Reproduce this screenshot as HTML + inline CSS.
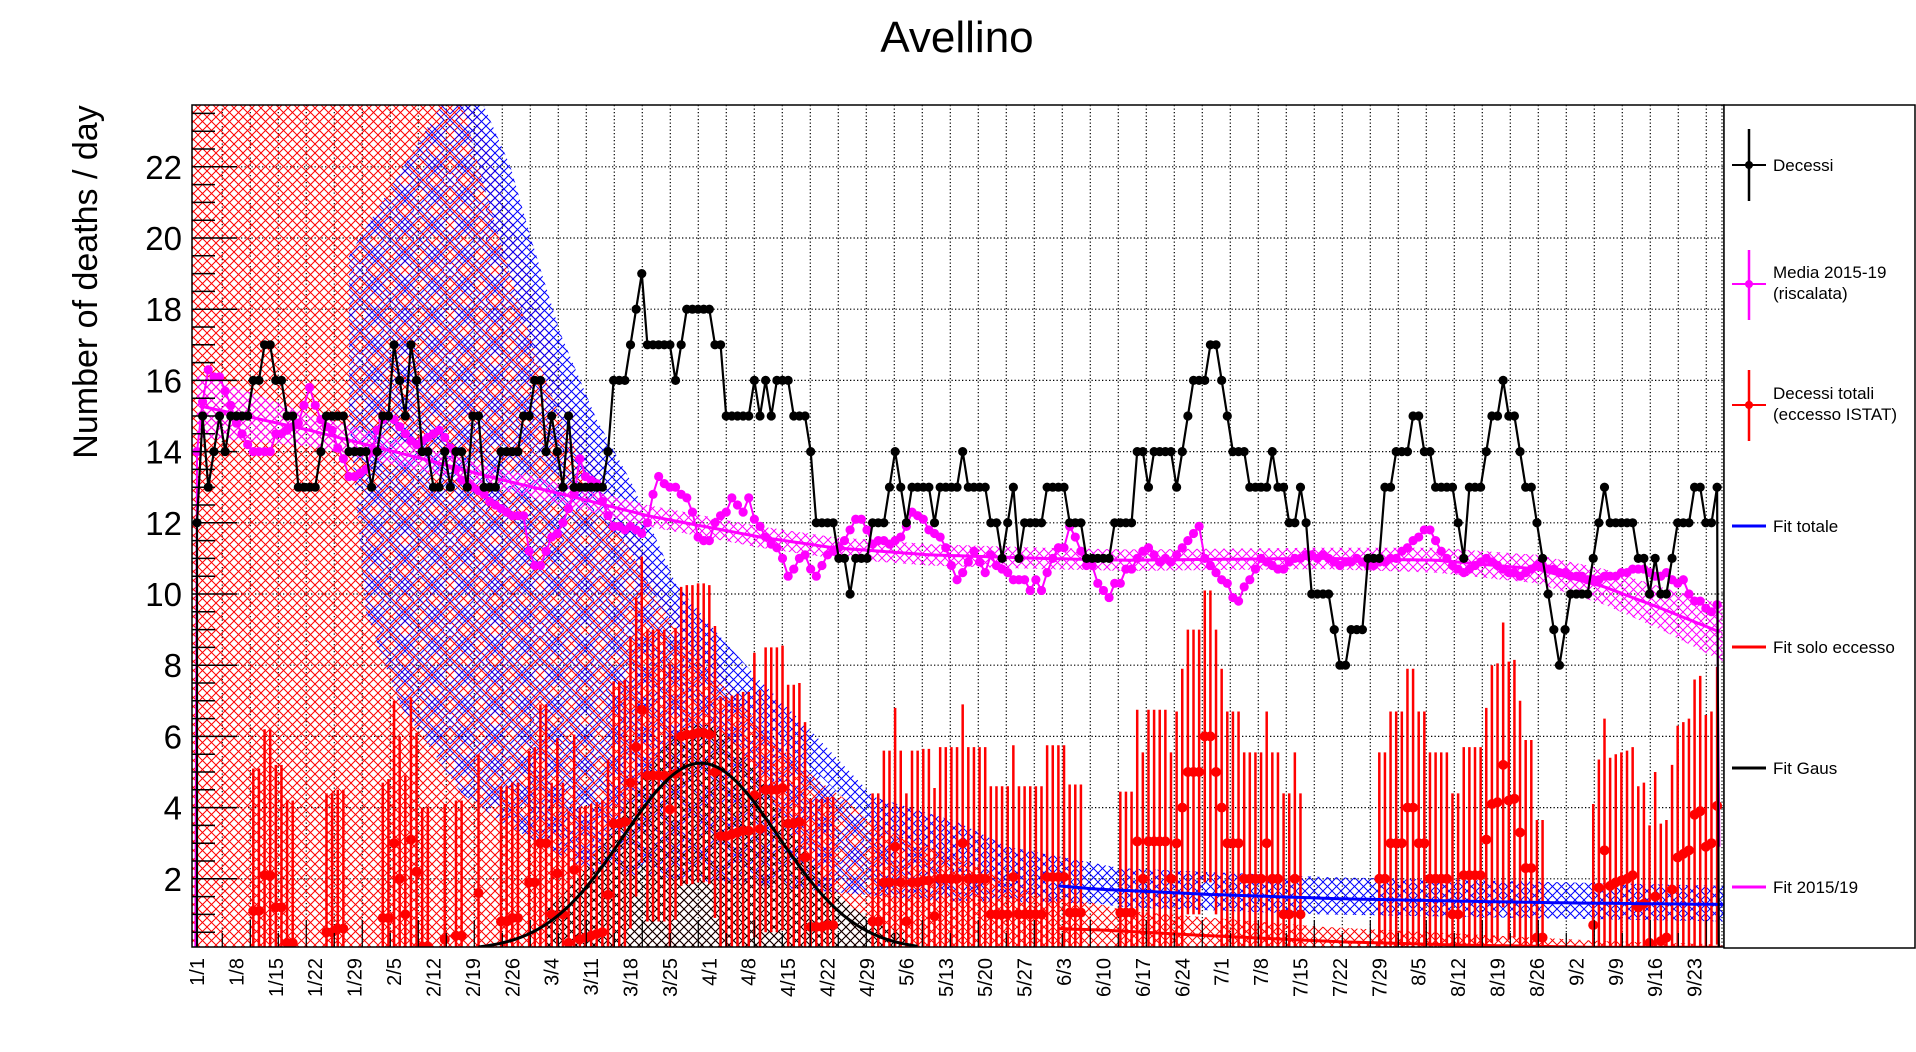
<!DOCTYPE html>
<html><head><meta charset="utf-8"><title>Avellino</title>
<style>
html,body{margin:0;padding:0;background:#fff;}
svg{display:block;font-family:"Liberation Sans",Arial,sans-serif;}
</style></head>
<body>
<svg id="chart" width="1916" height="1052" viewBox="0 0 1916 1052" xmlns="http://www.w3.org/2000/svg">
<defs>
<pattern id="hRed" patternUnits="userSpaceOnUse" width="9" height="9"><path d="M0,0L9,9M9,0L0,9" stroke="#ff0000" stroke-width="1" fill="none"/></pattern>
<pattern id="hBlue" patternUnits="userSpaceOnUse" width="9" height="9"><path d="M0,0L9,9M9,0L0,9" stroke="#0000ff" stroke-width="1" fill="none"/></pattern>
<pattern id="hBlueCoarse" patternUnits="userSpaceOnUse" width="30" height="30"><path d="M0,0L30,30M30,0L0,30M0,6L24,30M6,0L30,24M30,6L6,30M24,0L0,24" stroke="#0000ff" stroke-width="0.9" fill="none"/></pattern>
<pattern id="hBlack" patternUnits="userSpaceOnUse" width="9" height="9"><path d="M0,0L9,9M9,0L0,9" stroke="#000" stroke-width="1" fill="none"/></pattern>
<pattern id="hMag" patternUnits="userSpaceOnUse" width="9" height="9"><path d="M0,0L9,9M9,0L0,9" stroke="#ff00ff" stroke-width="1" fill="none"/></pattern>
<clipPath id="plotClip"><rect x="192" y="105" width="1532" height="842"/></clipPath>
</defs>
<rect x="0" y="0" width="1916" height="1052" fill="#fff"/>
<text x="957" y="52" font-size="44" text-anchor="middle">Avellino</text>
<text transform="translate(97,282) rotate(-90)" font-size="34" text-anchor="middle">Number of deaths / day</text>
<g id="grid"></g>
<g id="marks" clip-path="url(#plotClip)"></g>
<g id="axes"></g>
<g id="legend"></g>
</svg>
<script>
// ---- data ----
const tickLabels = ["1/1","1/8","1/15","1/22","1/29","2/5","2/12","2/19","2/26","3/4","3/11","3/18","3/25","4/1","4/8","4/15","4/22","4/29","5/6","5/13","5/20","5/27","6/3","6/10","6/17","6/24","7/1","7/8","7/15","7/22","7/29","8/5","8/12","8/19","8/26","9/2","9/9","9/16","9/23"];
const yTicks = [2,4,6,8,10,12,14,16,18,20,22];
const decessi = [
12,15,13,14,15,14,15,15,15,15, 16,16,17,17,16,16,15,15,13,13,
13,13,14,15,15,15,15,14,14,14, 14,13,14,15,15,17,16,15,17,16,
14,14,13,13,14,13,14,14,13,15, 15,13,13,13,14,14,14,14,15,15,
16,16,14,15,14,13,15,13,13,13, 13,13,13,14,16,16,16,17,18,19,
17,17,17,17,17,16,17,18,18,18, 18,18,17,17,15,15,15,15,15,16,
15,16,15,16,16,16,15,15,15,14, 12,12,12,12,11,11,10,11,11,11,
12,12,12,13,14,13,12,13,13,13, 13,12,13,13,13,13,14,13,13,13,
13,12,12,11,12,13,11,12,12,12, 12,13,13,13,13,12,12,12,11,11,
11,11,11,12,12,12,12,14,14,13, 14,14,14,14,13,14,15,16,16,16,
17,17,16,15,14,14,14,13,13,13, 13,14,13,13,12,12,13,12,10,10,
10,10,9,8,8,9,9,9,11,11, 11,13,13,14,14,14,15,15,14,14,
13,13,13,13,12,11,13,13,13,14, 15,15,16,15,15,14,13,13,12,11,
10,9,8,9,10,10,10,10,11,12, 13,12,12,12,12,12,11,11,10,11,
10,10,11,12,12,12,13,13,12,12,13];
const media = [
14.0,15.4,16.3,16.1,16.1,15.7,15.3,14.8,14.5,14.2, 14.0,14.0,14.0,14.0,14.5,14.5,14.6,14.7,14.8,15.3,
15.8,15.3,14.9,14.7,14.6,14.1,13.8,13.3,13.3,13.4, 13.5,14.0,14.6,14.9,15.0,14.9,14.7,14.5,14.3,14.2,
14.3,14.4,14.5,14.6,14.4,14.1,13.5,13.2,13.1,13.0, 12.9,12.8,12.6,12.5,12.4,12.3,12.2,12.2,12.2,11.2,
10.8,10.8,11.2,11.6,11.7,12.0,12.4,12.8,13.8,13.3, 13.2,13.1,12.6,12.2,11.9,11.9,11.8,11.9,11.8,11.7,
12.0,12.8,13.3,13.1,13.0,13.0,12.8,12.7,12.3,11.6, 11.5,11.5,12.0,12.2,12.3,12.7,12.5,12.3,12.7,12.1,
11.9,11.6,11.4,11.3,11.0,10.5,10.7,11.0,11.1,10.7, 10.5,10.8,11.1,11.2,11.3,11.5,11.8,12.1,12.1,11.8,
11.4,11.5,11.5,11.4,11.5,11.6,11.9,12.3,12.2,12.1, 11.8,11.7,11.6,11.3,10.8,10.4,10.6,10.9,11.2,10.9,
10.6,11.1,10.8,10.7,10.6,10.4,10.4,10.4,10.1,10.4, 10.1,10.6,11.0,11.3,11.3,11.9,11.6,11.2,10.8,10.8,
10.3,10.1,9.9,10.3,10.3,10.7,10.7,11.0,11.2,11.3, 11.1,10.9,11.0,10.9,11.1,11.3,11.5,11.7,11.9,11.0,
10.8,10.6,10.4,10.3,9.9,9.8,10.2,10.4,10.7,11.0, 10.9,10.8,10.7,10.7,10.9,11.0,11.0,11.1,11.1,11.0,
11.1,11.0,10.9,10.8,10.9,10.9,11.0,10.9,10.8,10.8, 10.9,10.9,11.0,11.0,11.2,11.3,11.5,11.6,11.8,11.8,
11.5,11.2,11.0,10.8,10.7,10.6,10.7,10.8,10.9,11.0, 10.9,10.8,10.7,10.6,10.6,10.5,10.6,10.7,10.8,10.8,
10.7,10.7,10.6,10.6,10.5,10.5,10.5,10.4,10.4,10.4, 10.5,10.5,10.5,10.6,10.6,10.7,10.7,10.7,10.6,10.5,
10.5,10.6,10.4,10.3,10.4,10.0,9.8,9.8,9.6,9.5,9.7];
const redDays = [10,11,12,13,14,15,16,17,23,24,25,26,33,34,35,36,37,38,39,40,41,44,46,47,50,54,55,56,57,59,60,61,62,63,64,65,66,67,68,69,70,71,72,73,74,75,76,77,78,79,80,81,82,83,84,85,86,87,88,89,90,91,92,93,94,95,96,97,98,99,100,101,102,103,104,105,106,107,108,109,110,111,112,113,
120,121,122,123,124,125,126,127,128,129,130,131,132,133,134,135,136,137,138,139,140,141,142,143,144,145,146,147,148,149,150,151,152,153,154,155,156,157,
164,165,166,167,168,169,170,171,172,173,174,175,176,177,178,179,180,181,182,183,184,185,186,187,188,189,190,191,192,193,194,195,196,
210,211,212,213,214,215,216,217,218,219,220,221,222,223,224,225,226,227,228,229,230,231,232,233,234,235,236,237,238,239,
248,249,250,251,252,253,254,255,256,257,258,259,260,261,262,263,264,265,266,267,268,269,270];
const redVals = [1.1,1.1,2.1,2.1,1.2,1.2,0.2,0.2,0.5,0.5,0.6,0.6,0.9,0.9,3.0,2.0,1.0,3.1,2.2,0.1,0.1,0.3,0.4,0.4,1.6,0.8,0.8,0.9,0.9,1.9,1.9,3.0,3.0,1.0,2.15,1.0,0.2,2.25,0.3,0.35,0.4,0.45,0.5,1.55,3.55,3.55,3.6,4.7,5.7,6.75,4.9,4.9,4.9,4.9,3.95,4.95,6.0,6.05,6.05,6.1,6.1,6.05,5.0,3.2,3.2,3.25,3.3,3.35,3.35,4.35,3.4,4.5,4.5,4.5,4.55,3.55,3.55,3.6,2.6,0.65,0.65,0.65,0.7,0.7,
0.8,0.8,1.9,1.9,2.9,1.9,0.8,1.9,1.9,1.95,1.95,0.95,2.0,2.0,2.0,2.0,3.0,2.0,2.0,2.0,2.0,1.0,1.0,1.0,1.0,2.05,1.0,1.0,1.0,1.0,1.0,2.05,2.05,2.05,2.05,1.05,1.05,1.05,
1.05,1.05,1.05,3.05,2.0,3.05,3.05,3.05,3.05,2.0,3.0,4.0,5.0,5.0,5.0,6.0,6.0,5.0,4.0,3.0,3.0,3.0,2.0,2.0,2.0,2.0,3.0,2.0,2.0,1.0,1.0,2.0,1.0,
2.0,2.0,3.0,3.0,3.0,4.0,4.0,3.0,3.0,2.0,2.0,2.0,2.0,1.0,1.0,2.1,2.1,2.1,2.1,3.1,4.1,4.15,5.2,4.2,4.25,3.3,2.3,2.3,0.35,0.35,
0.7,1.75,2.8,1.8,1.9,1.95,2.0,2.1,1.2,1.3,0.2,1.5,0.25,0.35,1.7,2.6,2.7,2.8,3.8,3.9,2.9,3.0,4.05];
const redErrs = [4.0,4.0,4.1,4.1,4.0,4.0,4.0,4.0,3.9,3.9,3.9,3.9,3.8,3.9,4.0,4.0,3.9,4.0,3.9,3.9,3.9,3.8,3.8,3.8,3.9,3.8,3.8,3.8,3.8,3.7,3.8,3.9,3.9,3.7,3.8,3.7,3.7,3.8,3.7,3.7,3.7,3.7,3.7,3.8,4.0,4.0,4.0,4.1,4.2,4.3,4.1,4.1,4.1,4.1,4.1,4.1,4.2,4.2,4.2,4.2,4.2,4.2,4.1,3.9,3.9,3.9,3.9,3.9,3.9,4.0,3.9,4.0,4.0,4.0,4.0,3.9,3.9,3.9,3.8,3.6,3.6,3.6,3.6,3.6,
3.6,3.6,3.7,3.7,3.9,3.7,3.6,3.7,3.7,3.7,3.7,3.6,3.7,3.7,3.7,3.7,3.9,3.7,3.7,3.7,3.7,3.6,3.6,3.6,3.6,3.7,3.6,3.6,3.6,3.6,3.6,3.7,3.7,3.7,3.7,3.6,3.6,3.6,
3.4,3.4,3.4,3.7,3.55,3.7,3.7,3.7,3.7,3.55,3.7,3.9,4.0,4.0,4.0,4.1,4.1,4.0,3.9,3.7,3.7,3.7,3.55,3.55,3.55,3.55,3.7,3.55,3.55,3.4,3.4,3.55,3.4,
3.55,3.55,3.7,3.7,3.7,3.9,3.9,3.7,3.7,3.55,3.55,3.55,3.55,3.4,3.4,3.6,3.6,3.6,3.6,3.7,3.9,3.9,4.0,3.9,3.9,3.7,3.6,3.6,3.3,3.3,
3.4,3.6,3.7,3.6,3.6,3.6,3.6,3.6,3.4,3.4,3.3,3.5,3.3,3.3,3.5,3.7,3.7,3.7,3.8,3.8,3.7,3.7,3.9];
// fit curves (model outputs sampled)
const fitMagDays = [0,20,40,53,65,80,90,100,113,130,150,165,200,220,238,250,260,271];
const fitMagVals = [15.3,14.6,13.8,13.25,12.8,12.2,11.9,11.6,11.3,11.1,11.0,10.95,11.0,10.95,10.7,10.2,9.6,8.9];
const fitMagBand = [0.9,0.45,0.35,0.3,0.3,0.3,0.3,0.3,0.3,0.3,0.3,0.3,0.3,0.35,0.4,0.5,0.6,0.8];
const fitTotDays = [153,160,180,203,225,245,271];
const fitTotVals = [1.8,1.71,1.56,1.44,1.37,1.32,1.28];
const blueUpDays = [44,51,55.7,59.5,64.6,71,77.3,85,93.5,99.8,109.4,120.2,135,144,164,200,272];
const blueUpVals = [23.9,23.7,22,19.9,17.3,14.9,13.1,10.3,8.7,7.6,6.1,4.3,3.6,2.9,2.3,2.05,1.8];
const blueLoDays = [47,50,55,60,65,71,77,85,93,100,110,120,135,150,165,200,272];
const blueLoVals = [23.9,22,19.3,16.8,14.8,12.8,11.2,9.0,7.5,6.4,5.0,3.5,2.6,1.5,1.2,1.0,0.8];
const coarseDays = [27,30,36,47,55,70,100,130,160];
const coarseLow = [15,9.5,6.9,4.4,3.5,2.2,1.8,1.4,1.3];
const redBandDays = [-2,49,55,60,65,70,77,85,93,100,110,120,135,150,165,200,250,272];
const redBandVals = [23.9,23.9,21,18.5,16,14,12,9.5,8,6.2,4.8,3.7,2.6,1.7,1.1,0.65,0.25,0.15];
const fitEccDays = [153,161,180,203,224,247,271];
const fitEccVals = [0.6,0.56,0.4,0.23,0.14,0.08,0.08];
const gausAmp = 5.25, gausMean = 89.5, gausSigma = 13.8, gausFrom = 50, gausTo = 128;

// ---- axes ----
const X = d => 197 + d*5.63;
const Y = v => 950 - v*35.6;
const NS = "http://www.w3.org/2000/svg";
function mk(tag, attrs, parent){const e=document.createElementNS(NS,tag);for(const k in attrs)e.setAttribute(k,attrs[k]);parent.appendChild(e);return e;}
const grid=document.getElementById('grid'), marks=document.getElementById('marks'), axes=document.getElementById('axes'), legend=document.getElementById('legend');

for(let k=1;k<=54;k++){const gx=194.3+28*k;
 const l=mk('line',{x1:gx,y1:105,x2:gx,y2:947,stroke:'#000','stroke-width':1.2,'stroke-dasharray':'1.3 2.2'},grid);
 
 }
const lastGrid=mk('line',{x1:1722,y1:105,x2:1722,y2:947,stroke:'#000','stroke-width':1.2,'stroke-dasharray':'1.3 2.2'},grid);


yTicks.forEach(v=>{const l=mk('line',{x1:192,y1:Y(v),x2:1724,y2:Y(v),stroke:'#000','stroke-width':1.2,'stroke-dasharray':'1.3 2.2'},grid);
 
 });

function interp(xs,ys,d){if(d<=xs[0])return ys[0];for(let i=1;i<xs.length;i++){if(d<=xs[i]){const t=(d-xs[i-1])/(xs[i]-xs[i-1]);return ys[i-1]+t*(ys[i]-ys[i-1]);}}return ys[ys.length-1];}
function curvePts(xs,ys,from,to,step){const p=[];for(let d=from;d<=to+1e-9;d+=step)p.push([X(d),Y(interp(xs,ys,d))]);return p;}
function pstr(p){return p.map(q=>q[0].toFixed(1)+','+q[1].toFixed(1)).join(' ');}

const redPoly=curvePts(redBandDays,redBandVals,-2,272,0.5);
redPoly.push([X(272),Y(0)],[X(-2),Y(0)]);
const rb=mk('polygon',{points:pstr(redPoly),fill:'url(#hRed)'},marks);



const cTop=curvePts(blueLoDays,blueLoVals,47,160,1);
const cPoly=[[X(27),Y(19.5)],[X(44),Y(23.9)]].concat(cTop);
for(let i=coarseDays.length-1;i>=0;i--)cPoly.push([X(coarseDays[i]),Y(coarseLow[i])]);
const cb=mk('polygon',{points:pstr(cPoly),fill:'url(#hBlueCoarse)'},marks);



const bUp=curvePts(blueUpDays,blueUpVals,44,272,0.5);
const bLo=curvePts(blueLoDays,blueLoVals,47,272,0.5).reverse();
const bb=mk('polygon',{points:pstr(bUp.concat(bLo)),fill:'url(#hBlue)'},marks);



const gaus=d=>gausAmp*Math.exp(-Math.pow(d-gausMean,2)/(2*gausSigma*gausSigma));
const gb=[];for(let d=62;d<=126;d+=0.5)gb.push([X(d),Y(gaus(d)*1.15+0.3)]);
gb.push([X(126),Y(0)],[X(62),Y(0)]);
const gbe=mk('polygon',{points:pstr(gb),fill:'url(#hBlack)'},marks);



const mUp=[],mLo=[];for(let d=0;d<=271;d+=0.5){const v=interp(fitMagDays,fitMagVals,d),w=interp(fitMagDays,fitMagBand,d);mUp.push([X(d),Y(v+w)]);mLo.push([X(d),Y(v-w)]);}
const mb=mk('polygon',{points:pstr(mUp.concat(mLo.reverse())),fill:'url(#hMag)'},marks);



const redG=mk('g',{},marks);


redDays.forEach((d,i)=>{const v=redVals[i],e=redErrs[i];
 const b=mk('line',{x1:X(d),x2:X(d),y1:Y(Math.max(0,v-e)),y2:Y(v+e),stroke:'#ff0000','stroke-width':2.5},redG);
 
 
 const c=mk('circle',{cx:X(d),cy:Y(v),r:5,fill:'#ff0000'},redG);
 
 });

const fe=mk('polyline',{points:pstr(curvePts(fitEccDays,fitEccVals,153,271,1)),fill:'none',stroke:'#ff0000','stroke-width':3},marks);


const ft=mk('polyline',{points:pstr(curvePts(fitTotDays,fitTotVals,153,271,1)),fill:'none',stroke:'#0000ff','stroke-width':3},marks);


const gp=[];for(let d=gausFrom;d<=gausTo;d+=0.5)gp.push([X(d),Y(gaus(d))]);
const gl=mk('polyline',{points:pstr(gp),fill:'none',stroke:'#000','stroke-width':3},marks);


const fm=mk('polyline',{points:pstr(curvePts(fitMagDays,fitMagVals,0.5,271,1)),fill:'none',stroke:'#ff00ff','stroke-width':3},marks);



const magPts=[[X(-0.3),Y(0)]].concat(media.map((v,i)=>[X(i),Y(v)]));
magPts.push([X(media.length-0.6),Y(2.9)]);
const ml=mk('polyline',{points:pstr(magPts),fill:'none',stroke:'#ff00ff','stroke-width':2},marks);


media.forEach((v,i)=>{const c=mk('circle',{cx:X(i),cy:Y(v),r:4.6,fill:'#ff00ff'},marks);
 
 });

const blkPts=[[X(0),Y(0)]].concat(decessi.map((v,i)=>[X(i),Y(v)]));
blkPts.push([X(decessi.length-0.7),Y(0)]);
const bl=mk('polyline',{points:pstr(blkPts),fill:'none',stroke:'#000','stroke-width':2.2},marks);


decessi.forEach((v,i)=>{const c=mk('circle',{cx:X(i),cy:Y(v),r:4.6,fill:'#000'},marks);
 
 });

const fr=mk('rect',{x:192,y:105,width:1532,height:842,fill:'none',stroke:'#000','stroke-width':1.5},axes);


for(let v=0.5;v<23.8;v+=0.5){const major=Math.abs(v/2-Math.round(v/2))<1e-6;
 const t=mk('line',{x1:192,x2:192+(major?45:23),y1:Y(v),y2:Y(v),stroke:'#000','stroke-width':1.5},axes);
 
 }
yTicks.forEach(v=>{const t=mk('text',{x:182,y:Y(v)+12,'font-size':33,'text-anchor':'end'},axes);t.textContent=String(v);
 
 });
for(let k=1;k<=54;k++){const gx=194.3+28*k;
 const t=mk('line',{x1:gx,x2:gx,y1:947,y2:k%2?933:920,stroke:'#000','stroke-width':1.2},axes);
 
 }
tickLabels.forEach((s,i)=>{const x=X(i*7)+7;
 const t=mk('text',{transform:`translate(${x.toFixed(1)},958) rotate(-90)`,'font-size':20,'text-anchor':'end'},axes);t.textContent=s;
 
 });

const lb=mk('rect',{x:1724,y:105,width:191,height:843,fill:'#fff',stroke:'#000','stroke-width':1.5},legend);


const legItems=[
 {name:'legend-decessi',color:'#000',y:165,bar:[129,201],dot:true,lines:['Decessi']},
 {name:'legend-media-2015-19',color:'#ff00ff',y:284,bar:[250,320],dot:true,lines:['Media 2015-19','(riscalata)']},
 {name:'legend-decessi-totali',color:'#ff0000',y:405,bar:[370,441],dot:true,lines:['Decessi totali','(eccesso ISTAT)']},
 {name:'legend-fit-totale',color:'#0000ff',y:526,lines:['Fit totale']},
 {name:'legend-fit-solo-eccesso',color:'#ff0000',y:647,lines:['Fit solo eccesso']},
 {name:'legend-fit-gaus',color:'#000',y:768,lines:['Fit Gaus']},
 {name:'legend-fit-2015-19',color:'#ff00ff',y:887,lines:['Fit 2015/19']}];
legItems.forEach(it=>{const g=mk('g',{},legend);
 
 
 mk('line',{x1:1732,x2:1766,y1:it.y,y2:it.y,stroke:it.color,'stroke-width':it.dot?2:3},g);
 if(it.bar){mk('line',{x1:1749,x2:1749,y1:it.bar[0],y2:it.bar[1],stroke:it.color,'stroke-width':2.5},g);
  mk('circle',{cx:1749,cy:it.y,r:4,fill:it.color},g);}
 if(it.lines.length===1){const t=mk('text',{x:1773,y:it.y+6,'font-size':17},g);t.textContent=it.lines[0];}
 else{const t1=mk('text',{x:1773,y:it.y-6,'font-size':17},g);t1.textContent=it.lines[0];
  const t2=mk('text',{x:1773,y:it.y+15,'font-size':17},g);t2.textContent=it.lines[1];}
});
</script>
</body></html>
